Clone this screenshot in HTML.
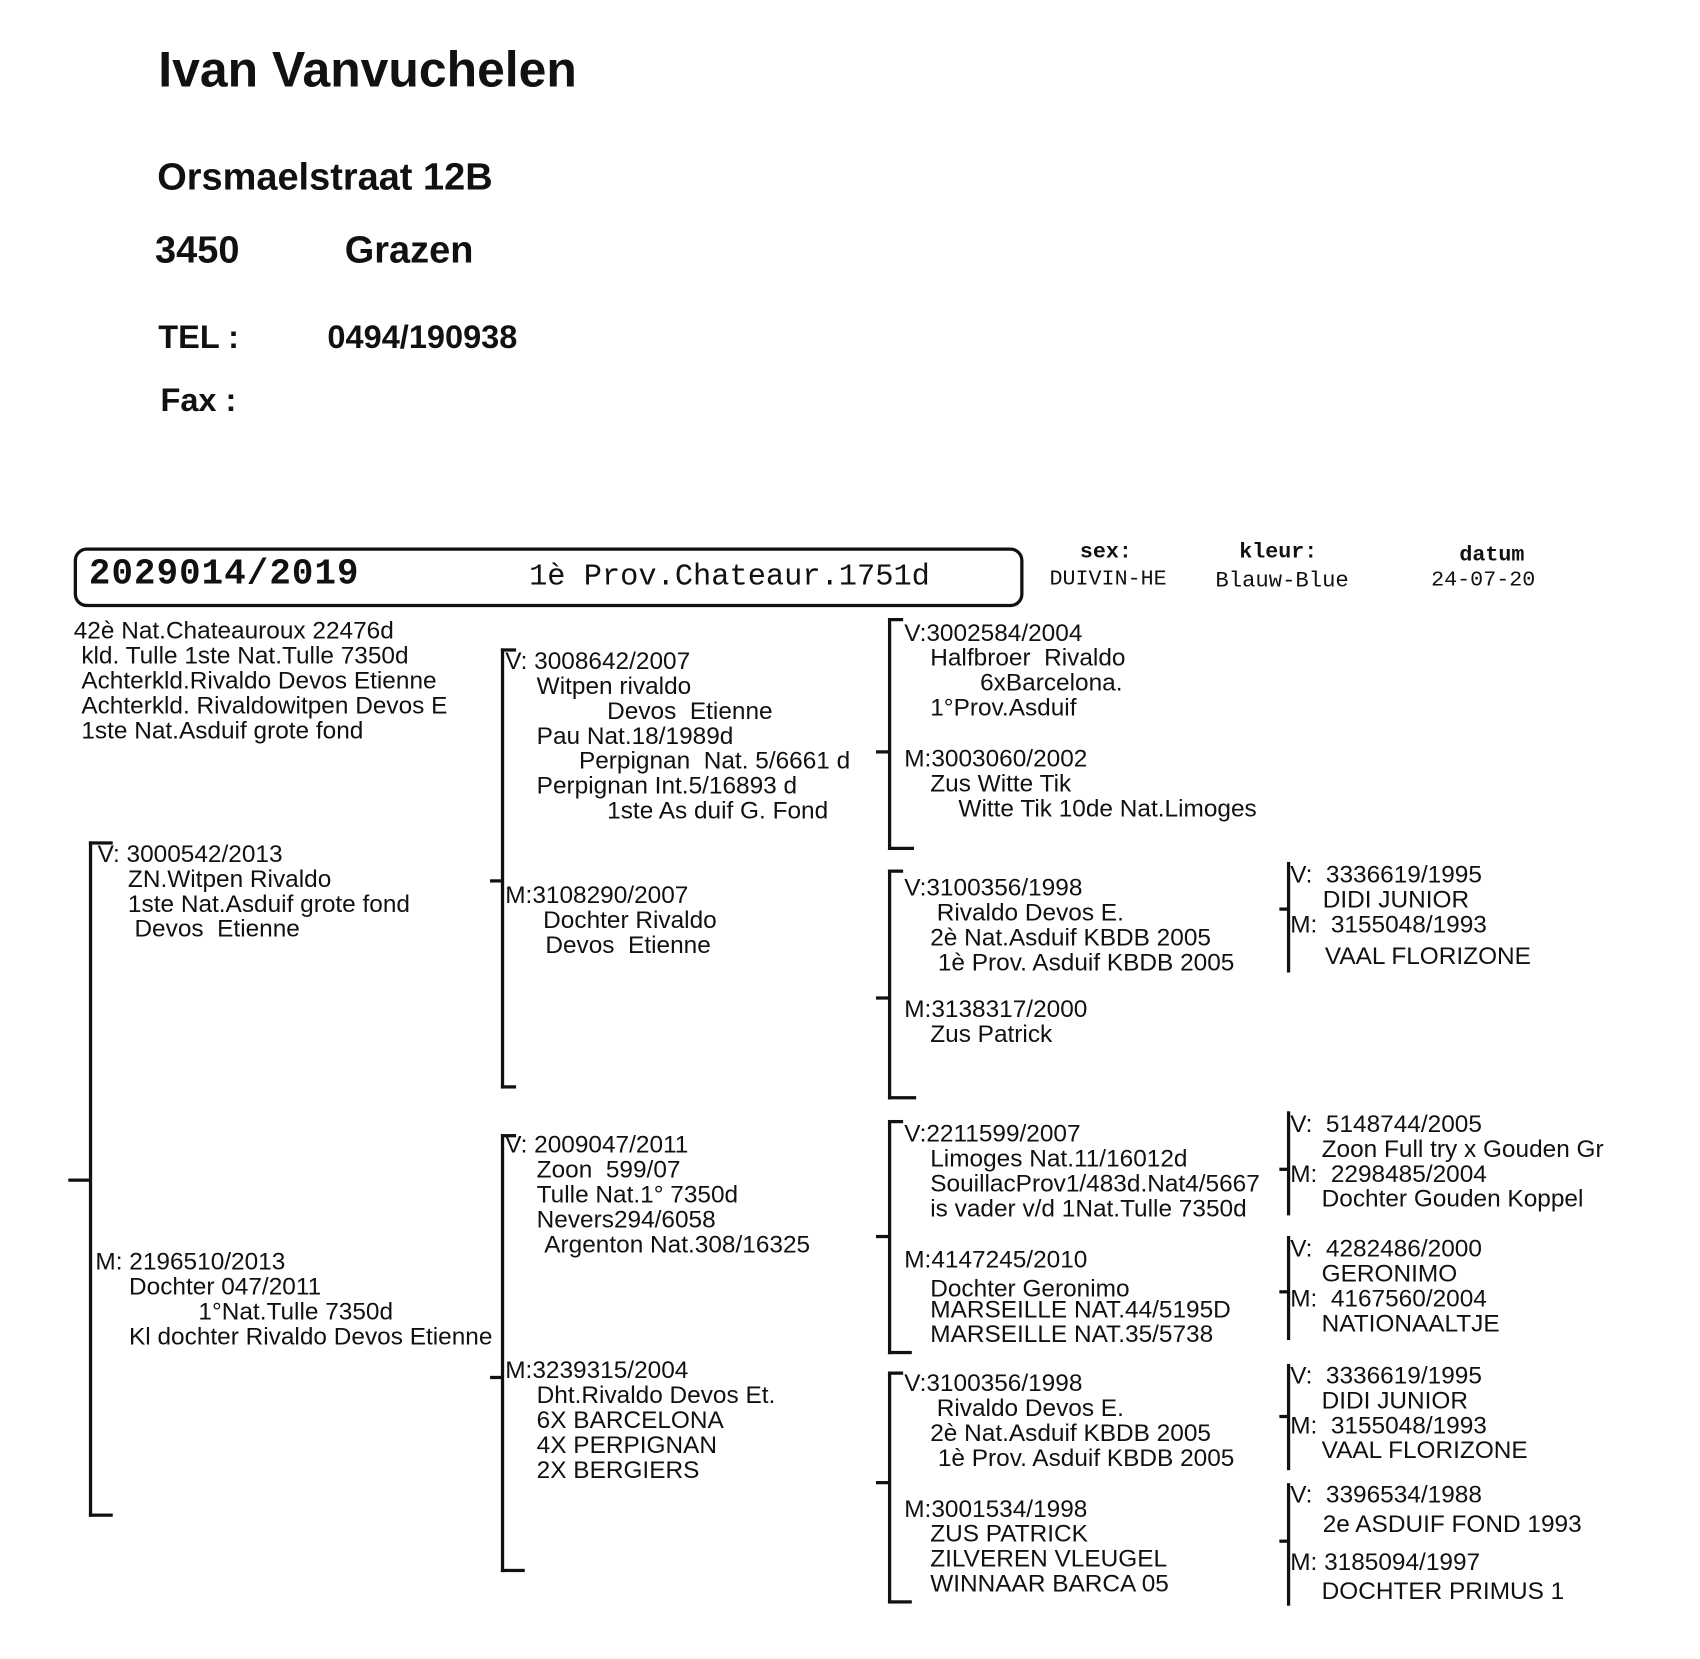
<!DOCTYPE html>
<html><head><meta charset="utf-8"><style>
html,body{margin:0;padding:0;background:#fff;width:1700px;height:1659px;overflow:hidden}
#w{position:absolute;left:0;top:0;width:1568px;height:1530px;transform:scale(1.0842);transform-origin:0 0;font-family:"Liberation Sans",Arial,sans-serif;color:#111}
.t{position:absolute;white-space:nowrap;font-size:22.5px;line-height:23px}
.t div,.p{white-space:pre}
.h{position:absolute;white-space:pre;font-weight:bold}
.m{position:absolute;white-space:pre;font-family:"Liberation Mono",monospace}
.v{position:absolute;background:#111;width:3px}
.hz{position:absolute;background:#111;height:3px}
</style></head><body><div id="w">
<div class="h" style="left:146px;top:37px;font-size:46px">Ivan Vanvuchelen</div>
<div class="h" style="left:145px;top:144px;font-size:35px">Orsmaelstraat 12B</div>
<div class="h" style="left:143px;top:211px;font-size:35px">3450</div>
<div class="h" style="left:318px;top:211px;font-size:35px">Grazen</div>
<div class="h" style="left:146px;top:295px;font-size:30px">TEL :</div>
<div class="h" style="left:302px;top:295px;font-size:30px">0494/190938</div>
<div class="h" style="left:148px;top:353px;font-size:30px">Fax :</div>

<div style="position:absolute;left:68px;top:505px;width:870px;height:49px;border:3px solid #111;border-radius:12px"></div>
<div class="m" style="left:82px;top:511px;font-size:33px;font-weight:bold;letter-spacing:1px">2029014/2019</div>
<div class="m" style="left:488px;top:517px;font-size:28px">1è Prov.Chateaur.1751d</div>
<div class="m" style="left:996px;top:498px;font-size:20px;font-weight:bold">sex:</div>
<div class="m" style="left:968px;top:523px;font-size:20px">DUIVIN-HE</div>
<div class="m" style="left:1143px;top:498px;font-size:20px;font-weight:bold">kleur:</div>
<div class="m" style="left:1121px;top:525px;font-size:20.5px">Blauw-Blue</div>
<div class="m" style="left:1346px;top:501px;font-size:20px;font-weight:bold">datum</div>
<div class="m" style="left:1320px;top:524px;font-size:20px">24-07-20</div>

<div class="t" style="left:68px;top:570px"><div>42è Nat.Chateauroux 22476d</div><div style="margin-left:7px">kld. Tulle 1ste Nat.Tulle 7350d</div><div style="margin-left:7px">Achterkld.Rivaldo Devos Etienne</div><div style="margin-left:7px">Achterkld. Rivaldowitpen Devos E</div><div style="margin-left:7px">1ste Nat.Asduif grote fond</div></div>

<!-- col1 -->
<div class="v" style="left:82px;top:776px;height:623px"></div>
<div class="hz" style="left:82px;top:776px;width:22px"></div>
<div class="hz" style="left:82px;top:1396px;width:22px"></div>
<div class="hz" style="left:63px;top:1087px;width:20px"></div>
<div class="t" style="left:90px;top:776px"><div>V: 3000542/2013</div><div style="margin-left:28px">ZN.Witpen Rivaldo</div><div style="margin-left:28px">1ste Nat.Asduif grote fond</div><div style="margin-left:34px">Devos  Etienne</div></div>
<div class="t" style="left:88px;top:1152px"><div>M: 2196510/2013</div><div style="margin-left:31px">Dochter 047/2011</div><div style="margin-left:95px">1°Nat.Tulle 7350d</div><div style="margin-left:31px">Kl dochter Rivaldo Devos Etienne</div></div>

<!-- col2 -->
<div class="v" style="left:462px;top:598px;height:406px"></div>
<div class="hz" style="left:462px;top:598px;width:14px"></div>
<div class="hz" style="left:462px;top:1001px;width:14px"></div>
<div class="hz" style="left:452px;top:811px;width:12px"></div>
<div class="t" style="left:466px;top:598px"><div>V: 3008642/2007</div><div style="margin-left:29px">Witpen rivaldo</div><div style="margin-left:94px">Devos  Etienne</div><div style="margin-left:29px">Pau Nat.18/1989d</div><div style="margin-left:68px">Perpignan  Nat. 5/6661 d</div><div style="margin-left:29px">Perpignan Int.5/16893 d</div><div style="margin-left:94px">1ste As duif G. Fond</div></div>
<div class="t" style="left:466px;top:814px"><div>M:3108290/2007</div><div style="margin-left:35px">Dochter Rivaldo</div><div style="margin-left:37px">Devos  Etienne</div></div>
<div class="v" style="left:462px;top:1046px;height:404px"></div>
<div class="hz" style="left:462px;top:1046px;width:14px"></div>
<div class="hz" style="left:462px;top:1447px;width:22px"></div>
<div class="hz" style="left:452px;top:1269px;width:12px"></div>
<div class="t" style="left:466px;top:1044px"><div>V: 2009047/2011</div><div style="margin-left:29px">Zoon  599/07</div><div style="margin-left:29px">Tulle Nat.1° 7350d</div><div style="margin-left:29px">Nevers294/6058</div><div style="margin-left:36px">Argenton Nat.308/16325</div></div>
<div class="t" style="left:466px;top:1252px"><div>M:3239315/2004</div><div style="margin-left:29px">Dht.Rivaldo Devos Et.</div><div style="margin-left:29px">6X BARCELONA</div><div style="margin-left:29px">4X PERPIGNAN</div><div style="margin-left:29px">2X BERGIERS</div></div>

<!-- col3 -->
<div class="v" style="left:819px;top:570px;height:214px"></div>
<div class="hz" style="left:819px;top:570px;width:14px"></div>
<div class="hz" style="left:819px;top:781px;width:24px"></div>
<div class="hz" style="left:808px;top:692px;width:12px"></div>
<div class="t" style="left:834px;top:572px"><div>V:3002584/2004</div><div style="margin-left:24px">Halfbroer  Rivaldo</div><div style="margin-left:70px">6xBarcelona.</div><div style="margin-left:24px">1°Prov.Asduif</div></div>
<div class="t" style="left:834px;top:688px"><div>M:3003060/2002</div><div style="margin-left:24px">Zus Witte Tik</div><div style="margin-left:50px">Witte Tik 10de Nat.Limoges</div></div>
<div class="v" style="left:819px;top:802px;height:212px"></div>
<div class="hz" style="left:819px;top:802px;width:14px"></div>
<div class="hz" style="left:819px;top:1011px;width:26px"></div>
<div class="hz" style="left:808px;top:919px;width:12px"></div>
<div class="t" style="left:834px;top:807px"><div>V:3100356/1998</div><div style="margin-left:30px">Rivaldo Devos E.</div><div style="margin-left:24px">2è Nat.Asduif KBDB 2005</div><div style="margin-left:31px">1è Prov. Asduif KBDB 2005</div></div>
<div class="t" style="left:834px;top:919px"><div>M:3138317/2000</div><div style="margin-left:24px">Zus Patrick</div></div>
<div class="v" style="left:819px;top:1033px;height:216px"></div>
<div class="hz" style="left:819px;top:1033px;width:14px"></div>
<div class="hz" style="left:819px;top:1246px;width:22px"></div>
<div class="hz" style="left:808px;top:1139px;width:12px"></div>
<div class="t" style="left:834px;top:1034px"><div>V:2211599/2007</div><div style="margin-left:24px">Limoges Nat.11/16012d</div><div style="margin-left:24px">SouillacProv1/483d.Nat4/5667</div><div style="margin-left:24px">is vader v/d 1Nat.Tulle 7350d</div></div>
<div class="t" style="left:834px;top:1150px">M:4147245/2010</div>
<div class="t" style="left:858px;top:1177px">Dochter Geronimo</div>
<div class="t" style="left:858px;top:1196px">MARSEILLE NAT.44/5195D</div>
<div class="t" style="left:858px;top:1219px">MARSEILLE NAT.35/5738</div>
<div class="v" style="left:819px;top:1265px;height:214px"></div>
<div class="hz" style="left:819px;top:1265px;width:14px"></div>
<div class="hz" style="left:819px;top:1476px;width:22px"></div>
<div class="hz" style="left:808px;top:1366px;width:12px"></div>
<div class="t" style="left:834px;top:1264px"><div>V:3100356/1998</div><div style="margin-left:30px">Rivaldo Devos E.</div><div style="margin-left:24px">2è Nat.Asduif KBDB 2005</div><div style="margin-left:31px">1è Prov. Asduif KBDB 2005</div></div>
<div class="t" style="left:834px;top:1380px"><div>M:3001534/1998</div><div style="margin-left:24px">ZUS PATRICK</div><div style="margin-left:24px">ZILVEREN VLEUGEL</div><div style="margin-left:24px">WINNAAR BARCA 05</div></div>

<!-- col4 -->
<div class="v" style="left:1187px;top:795px;height:102px"></div>
<div class="hz" style="left:1180px;top:837px;width:8px"></div>
<div class="t" style="left:1190px;top:795px"><div>V:  3336619/1995</div><div style="margin-left:30px">DIDI JUNIOR</div><div>M:  3155048/1993</div></div>
<div class="t" style="left:1222px;top:870px">VAAL FLORIZONE</div>
<div class="v" style="left:1187px;top:1025px;height:96px"></div>
<div class="hz" style="left:1180px;top:1077px;width:8px"></div>
<div class="t" style="left:1190px;top:1025px"><div>V:  5148744/2005</div><div style="margin-left:29px">Zoon Full try x Gouden Gr</div><div>M:  2298485/2004</div><div style="margin-left:29px">Dochter Gouden Koppel</div></div>
<div class="v" style="left:1187px;top:1140px;height:96px"></div>
<div class="hz" style="left:1180px;top:1190px;width:8px"></div>
<div class="t" style="left:1190px;top:1140px"><div>V:  4282486/2000</div><div style="margin-left:29px">GERONIMO</div><div>M:  4167560/2004</div><div style="margin-left:29px">NATIONAALTJE</div></div>
<div class="v" style="left:1187px;top:1258px;height:98px"></div>
<div class="hz" style="left:1180px;top:1305px;width:8px"></div>
<div class="t" style="left:1190px;top:1257px"><div>V:  3336619/1995</div><div style="margin-left:29px">DIDI JUNIOR</div><div>M:  3155048/1993</div><div style="margin-left:29px">VAAL FLORIZONE</div></div>
<div class="v" style="left:1187px;top:1368px;height:113px"></div>
<div class="hz" style="left:1180px;top:1420px;width:8px"></div>
<div class="t p" style="left:1190px;top:1367px">V:  3396534/1988</div>
<div class="t" style="left:1220px;top:1394px">2e ASDUIF FOND 1993</div>
<div class="t p" style="left:1190px;top:1429px">M: 3185094/1997</div>
<div class="t" style="left:1219px;top:1456px">DOCHTER PRIMUS 1</div>
</div></body></html>
